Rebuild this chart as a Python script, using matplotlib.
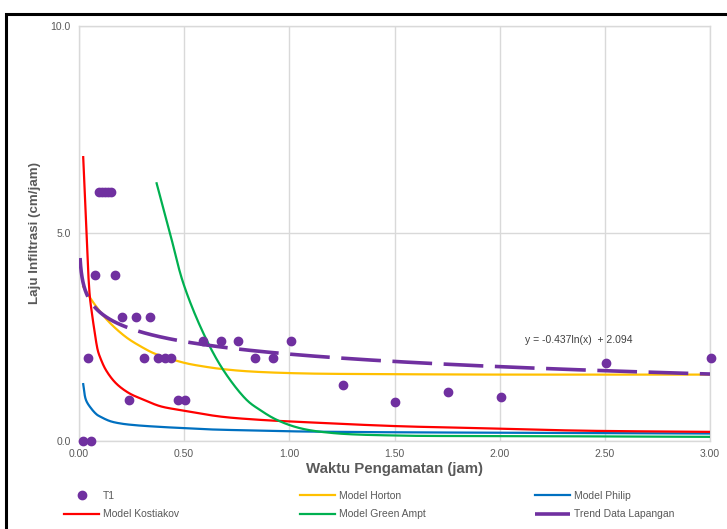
import numpy as np
import matplotlib
matplotlib.use("Agg")
import matplotlib.pyplot as plt
from matplotlib.patches import Rectangle

plt.rcParams['font.family'] = ['Liberation Sans', 'DejaVu Sans']

# ---- data ----
t1_x = [0.02, 0.056, 0.041, 0.076, 0.095, 0.109, 0.123, 0.138, 0.152, 0.171,
        0.204, 0.273, 0.339, 0.239, 0.307, 0.374, 0.407, 0.439, 0.469, 0.504,
        0.591, 0.674, 0.756, 0.838, 0.922, 1.006, 1.257, 1.503, 1.755, 2.007,
        2.507, 3.005]
t1_y = [0.0, 0.0, 2.0, 4.0, 6.0, 6.0, 6.0, 6.0, 6.0, 4.0,
        3.0, 3.0, 3.0, 1.0, 2.0, 2.0, 2.0, 2.0, 1.0, 1.0,
        2.4, 2.4, 2.4, 2.0, 2.0, 2.4, 1.34, 0.93, 1.19, 1.06,
        1.87, 2.0]

horton_x = [0.02, 0.05, 0.1, 0.15, 0.227, 0.3, 0.353, 0.42, 0.512, 0.6,
            0.67, 0.8, 1.05, 1.5, 2.0, 2.5, 3.0]
horton_y = [3.72, 3.47, 3.12, 2.83, 2.49, 2.26, 2.12, 2.0, 1.87, 1.79,
            1.74, 1.68, 1.63, 1.61, 1.6, 1.6, 1.6]

philip_x = [0.02, 0.033, 0.057, 0.084, 0.1, 0.147, 0.2, 0.27, 0.385, 0.5,
            0.62, 0.86, 1.05, 1.5, 2.0, 2.5, 3.0]
philip_y = [1.37, 0.99, 0.79, 0.64, 0.59, 0.48, 0.42, 0.38, 0.34, 0.31,
            0.28, 0.25, 0.23, 0.21, 0.2, 0.19, 0.18]

kostiakov_x = [0.02, 0.028, 0.035, 0.045, 0.052, 0.057, 0.073, 0.089, 0.1, 0.128,
               0.176, 0.239, 0.31, 0.385, 0.5, 0.67, 0.86, 1.05, 1.5, 1.9,
               2.38, 3.0]
kostiakov_y = [6.84, 5.9, 5.08, 3.95, 3.45, 3.24, 2.67, 2.19, 2.02, 1.71,
               1.39, 1.15, 0.99, 0.84, 0.73, 0.59, 0.51, 0.46, 0.36, 0.31,
               0.25, 0.22]

greenampt_x = [0.369, 0.433, 0.496, 0.591, 0.686, 0.797, 0.86, 0.94, 1.05, 1.21,
               1.526, 2.0, 2.5, 3.0]
greenampt_y = [6.21, 5.0, 3.8, 2.6, 1.71, 0.99, 0.75, 0.51, 0.31, 0.19,
               0.13, 0.12, 0.11, 0.10]

trend_a = -0.437
trend_b = 2.094
trend_range = (0.005, 3.0)
trend_label = "y = -0.437ln(x)  + 2.094"

x_ticks = [0.0, 0.5, 1.0, 1.5, 2.0, 2.5, 3.0]
y_ticks = [0.0, 5.0, 10.0]

# ---- figure ----
W, H = 727, 529
fig = plt.figure(figsize=(W / 100, H / 100), dpi=100)
ax = fig.add_axes([79 / W, 1 - 441 / H, (710 - 79) / W, (441 - 26) / H])

grey = '#595959'
grid_c = '#d9d9d9'
purple = '#7030A0'

ax.set_xlim(0, 3)
ax.set_ylim(0, 10)
ax.set_xticks(x_ticks)
ax.set_yticks(y_ticks)
ax.set_xticklabels([f"{v:.2f}" for v in x_ticks])
ax.set_yticklabels([f"{v:.1f}" for v in y_ticks])
ax.tick_params(length=0, labelsize=7.5, labelcolor=grey, pad=6)
ax.grid(True, color=grid_c, lw=1)
ax.set_axisbelow(True)
for s in ax.spines.values():
    s.set_color(grid_c)
    s.set_linewidth(1)


def smooth(xs, ys, n=30):
    """Centripetal Catmull-Rom through the points, computed in pixel-like space."""
    sx, sy = 210.3, 41.5
    P = np.column_stack([np.asarray(xs) * sx, np.asarray(ys) * sy])
    P = np.vstack([2 * P[0] - P[1], P, 2 * P[-1] - P[-2]])
    out = []
    for i in range(1, len(P) - 2):
        p0, p1, p2, p3 = P[i - 1], P[i], P[i + 1], P[i + 2]
        def tj(ti, a, b):
            return ti + max(np.linalg.norm(b - a), 1e-6) ** 0.5
        t0 = 0.0
        t1 = tj(t0, p0, p1)
        t2 = tj(t1, p1, p2)
        t3 = tj(t2, p2, p3)
        t = np.linspace(t1, t2, n)[:, None]
        A1 = (t1 - t) / (t1 - t0) * p0 + (t - t0) / (t1 - t0) * p1
        A2 = (t2 - t) / (t2 - t1) * p1 + (t - t1) / (t2 - t1) * p2
        A3 = (t3 - t) / (t3 - t2) * p2 + (t - t2) / (t3 - t2) * p3
        B1 = (t2 - t) / (t2 - t0) * A1 + (t - t0) / (t2 - t0) * A2
        B2 = (t3 - t) / (t3 - t1) * A2 + (t - t1) / (t3 - t1) * A3
        C = (t2 - t) / (t2 - t1) * B1 + (t - t1) / (t2 - t1) * B2
        out.append(C if i == 1 else C[1:])
    C = np.vstack(out)
    return C[:, 0] / sx, C[:, 1] / sy


h_t1, = ax.plot(t1_x, t1_y, 'o', color=purple, ms=6, mec=purple, zorder=5, clip_on=False)
h_hor, = ax.plot(*smooth(horton_x, horton_y), color='#FFC000', lw=1.6, zorder=3)
h_phi, = ax.plot(*smooth(philip_x, philip_y), color='#0070C0', lw=1.6, zorder=3)
h_kos, = ax.plot(*smooth(kostiakov_x, kostiakov_y), color='#FF0000', lw=1.6, zorder=3)
h_ga, = ax.plot(*smooth(greenampt_x, greenampt_y), color='#00B050', lw=1.6, zorder=3)

tx = np.geomspace(trend_range[0], trend_range[1], 300)
ty = trend_a * np.log(tx) + trend_b
h_tr, = ax.plot(tx, ty, color=purple, lw=2.6, ls=(0, (11, 3.2)), zorder=4,
                solid_capstyle='butt', dash_capstyle='butt')

ax.text(2.12, 2.43, trend_label, fontsize=7.5, color='#404040', ha='left', va='center')

ax.set_xlabel("Waktu Pengamatan (jam)", fontsize=10.8, fontweight='bold', color=grey, labelpad=2)
ax.set_ylabel("Laju Infiltrasi (cm/jam)", fontsize=9.6, fontweight='bold', color=grey, labelpad=7)

# legend: three columns
cols = [
    ([h_t1, h_kos], ["T1", "Model Kostiakov"], 64),
    ([h_hor, h_ga], ["Model Horton", "Model Green Ampt"], 300),
    ([h_phi, h_tr], ["Model Philip", "Trend Data Lapangan"], 535),
]
for hs, ls, xpx in cols:
    fig.legend(hs, ls, loc='center left', bbox_to_anchor=(xpx / W, 1 - 505 / H),
               frameon=False, fontsize=7.5, labelcolor=grey, handlelength=3.4,
               handletextpad=0.3, labelspacing=0.8, numpoints=1,
               borderpad=0, borderaxespad=0)

# outer border
fig.patches.append(Rectangle((6 / W, -0.1), 1.2, 1.1 - 14 / H, transform=fig.transFigure,
                             fill=False, ec='black', lw=2.2, zorder=10))

fig.savefig("out.png", dpi=100)
